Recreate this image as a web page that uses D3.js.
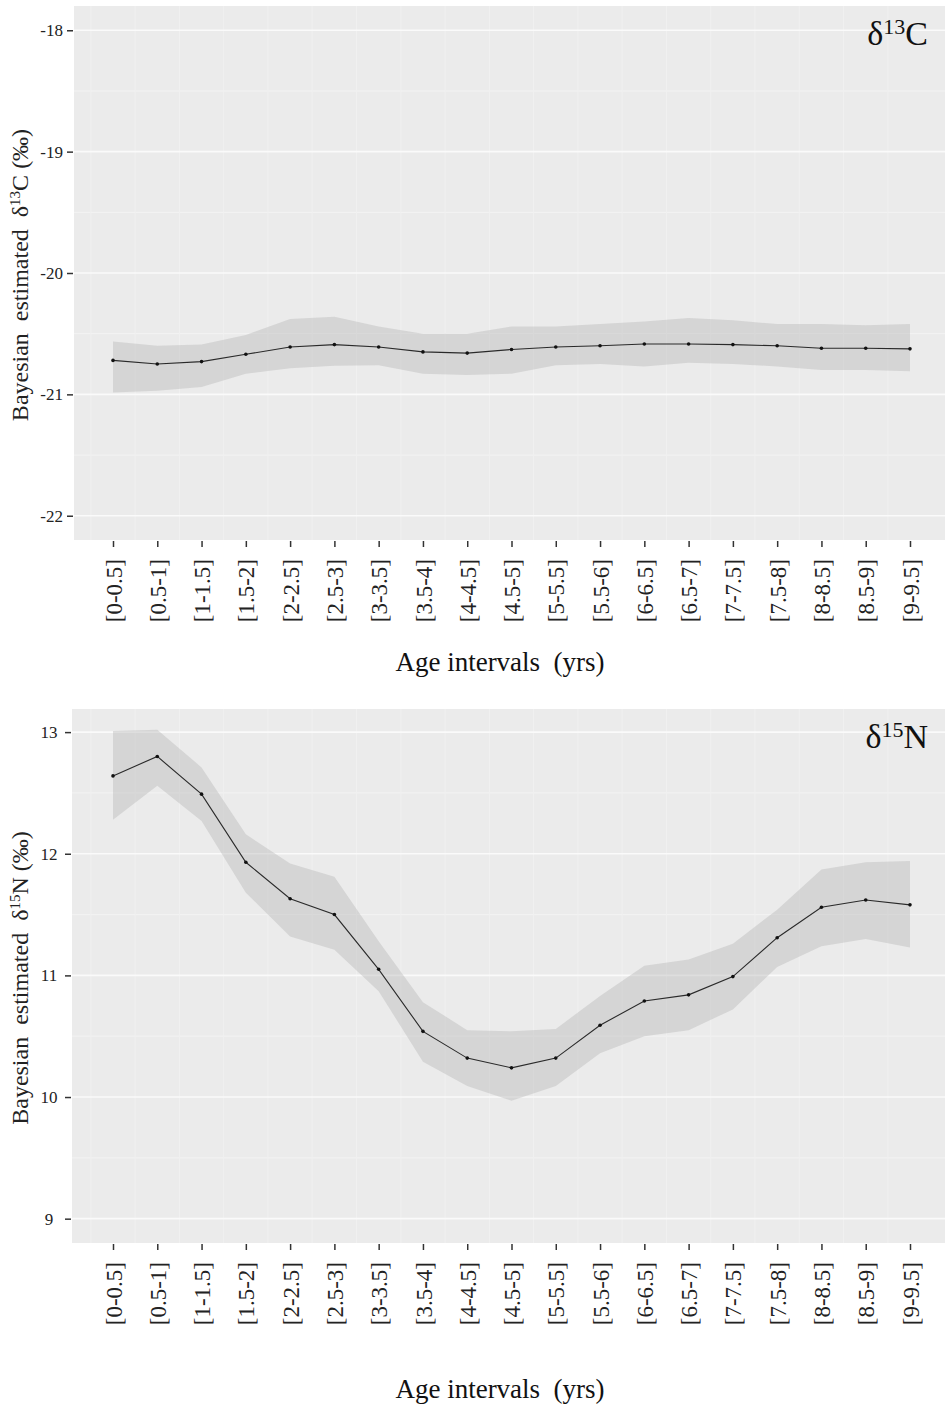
<!DOCTYPE html>
<html>
<head>
<meta charset="utf-8">
<script src="https://cdn.jsdelivr.net/npm/d3@7"></script>
<style>
  body { margin: 0; background: #fff; }
  svg { display: block; font-family: "Liberation Serif", "DejaVu Serif", serif; }
</style>
</head>
<body>
<div id="plot"></div>
<script>
const categories = ["[0-0.5]", "[0.5-1]", "[1-1.5]", "[1.5-2]", "[2-2.5]", "[2.5-3]", "[3-3.5]",
  "[3.5-4]", "[4-4.5]", "[4.5-5]", "[5-5.5]", "[5.5-6]", "[6-6.5]", "[6.5-7]", "[7-7.5]",
  "[7.5-8]", "[8-8.5]", "[8.5-9]", "[9-9.5]"];

// δ13C posterior estimates
const c13Mean  = [-20.72, -20.75, -20.73, -20.67, -20.61, -20.59, -20.61, -20.65, -20.66, -20.63,
  -20.61, -20.60, -20.585, -20.585, -20.59, -20.60, -20.62, -20.62, -20.625];
const c13Upper = [-20.565, -20.60, -20.59, -20.51, -20.38, -20.36, -20.44, -20.50, -20.50, -20.44,
  -20.44, -20.42, -20.40, -20.37, -20.39, -20.42, -20.42, -20.43, -20.42];
const c13Lower = [-20.985, -20.97, -20.94, -20.83, -20.785, -20.765, -20.76, -20.83, -20.84, -20.83,
  -20.76, -20.75, -20.77, -20.74, -20.75, -20.77, -20.80, -20.80, -20.81];
const c13Ticks = [-18, -19, -20, -21, -22];

// δ15N posterior estimates
const n15Mean  = [12.64, 12.80, 12.49, 11.93, 11.63, 11.50, 11.05, 10.54, 10.32, 10.24,
  10.32, 10.59, 10.79, 10.84, 10.99, 11.31, 11.56, 11.62, 11.58];
const n15Upper = [13.01, 13.02, 12.71, 12.16, 11.92, 11.81, 11.28, 10.78, 10.55, 10.54,
  10.56, 10.83, 11.08, 11.13, 11.26, 11.54, 11.87, 11.93, 11.94];
const n15Lower = [12.28, 12.56, 12.27, 11.68, 11.32, 11.21, 10.87, 10.29, 10.09, 9.97,
  10.09, 10.36, 10.50, 10.55, 10.72, 11.07, 11.24, 11.30, 11.23];
const n15Ticks = [9, 10, 11, 12, 13];

const width = 945, height = 1407;
const serif = "Liberation Serif";

const svg = d3.select("#plot").append("svg")
  .attr("width", width)
  .attr("height", height)
  .attr("viewBox", [0, 0, width, height]);

function drawPanel({top, bottom, left, yDomain, ticks, mean, upper, lower, iso, element, titleY, labelAnchor, labelX, xTitleY}) {
  const g = svg.append("g");
  const x = d3.scalePoint().domain(categories).range([113, 910]);
  const y = d3.scaleLinear().domain(yDomain).range([bottom, top]);
  const step = x.step();

  g.append("rect")
    .attr("x", left).attr("y", top)
    .attr("width", width - left).attr("height", bottom - top)
    .attr("fill", "#ebebeb");

  // minor horizontal grid
  const minor = d3.range(Math.ceil(yDomain[0] * 2) / 2, yDomain[1], 0.5).filter(v => v % 1 !== 0);
  g.selectAll(".minor").data(minor).join("line")
    .attr("x1", left).attr("x2", width)
    .attr("y1", d => y(d)).attr("y2", d => y(d))
    .attr("stroke", "#f3f3f3").attr("stroke-width", 1);

  // faint vertical grid
  g.selectAll(".vgrid").data(categories).join("line")
    .attr("x1", d => x(d) - step / 2).attr("x2", d => x(d) - step / 2)
    .attr("y1", top).attr("y2", bottom)
    .attr("stroke", "#f0f0f0").attr("stroke-width", 1);

  // major horizontal grid
  g.selectAll(".major").data(ticks).join("line")
    .attr("x1", left).attr("x2", width)
    .attr("y1", d => y(d)).attr("y2", d => y(d))
    .attr("stroke", "#fafafa").attr("stroke-width", 1.6);

  const area = d3.area()
    .x((d, i) => x(categories[i]))
    .y0((d, i) => y(lower[i]))
    .y1((d, i) => y(upper[i]));
  g.append("path")
    .attr("d", area(mean))
    .attr("fill", "#b5b5b5").attr("fill-opacity", 0.4);

  const line = d3.line()
    .x((d, i) => x(categories[i]))
    .y(d => y(d));
  g.append("path")
    .attr("d", line(mean))
    .attr("fill", "none").attr("stroke", "#2a2a2a").attr("stroke-width", 1.1);

  g.selectAll(".pt").data(mean).join("circle")
    .attr("cx", (d, i) => x(categories[i]))
    .attr("cy", d => y(d))
    .attr("r", 1.8).attr("fill", "#111");

  // y axis
  const yAxis = d3.axisLeft(y).tickValues(ticks).tickSize(6).tickPadding(4).tickFormat(d => String(d));
  g.append("g")
    .attr("transform", `translate(${left - 1},0)`)
    .call(yAxis)
    .attr("font-family", serif)
    .call(a => a.select(".domain").remove())
    .call(a => a.selectAll(".tick line").attr("stroke", "#333").attr("stroke-width", 1.5))
    .call(a => a.selectAll(".tick text")
      .attr("font-size", 17).attr("fill", "#222")
      .attr("text-anchor", labelAnchor)
      .attr("x", labelX - (left - 1)));

  // x axis
  const xAxis = d3.axisBottom(x).tickSize(7).tickPadding(0);
  g.append("g")
    .attr("transform", `translate(0,${bottom})`)
    .call(xAxis)
    .attr("font-family", serif)
    .call(a => a.select(".domain").remove())
    .call(a => a.selectAll(".tick line").attr("stroke", "#333").attr("stroke-width", 1.5).attr("y1", 1))
    .call(a => a.selectAll(".tick text")
      .attr("font-size", 23).attr("fill", "#222")
      .attr("text-anchor", "end")
      .attr("transform", "rotate(-90)")
      .attr("x", -19).attr("y", 0).attr("dy", "0.35em"));

  g.append("text")
    .attr("x", 500).attr("y", xTitleY)
    .attr("text-anchor", "middle")
    .attr("font-size", 27).attr("fill", "#111")
    .attr("xml:space", "preserve")
    .text("Age intervals  (yrs)");

  // y label
  const yl = g.append("text")
    .attr("transform", `translate(28,${(top + bottom) / 2 + 2}) rotate(-90)`)
    .attr("text-anchor", "middle")
    .attr("font-size", 24).attr("fill", "#222")
    .attr("xml:space", "preserve");
  yl.append("tspan").text("Bayesian  estimated  δ");
  yl.append("tspan").attr("font-size", 15).attr("dy", -8).text(iso);
  yl.append("tspan").attr("dy", 8).text(element + " (‰)");

  // panel title
  const t = g.append("text")
    .attr("x", 928).attr("y", titleY)
    .attr("text-anchor", "end")
    .attr("font-size", 34).attr("fill", "#111");
  t.append("tspan").text("δ");
  t.append("tspan").attr("font-size", 22).attr("dy", -11).text(iso);
  t.append("tspan").attr("dy", 11).text(element);
}

drawPanel({top: 6, bottom: 540, left: 74, yDomain: [-22.2, -17.8], ticks: c13Ticks,
  mean: c13Mean, upper: c13Upper, lower: c13Lower, iso: "13", element: "C", titleY: 45,
  labelAnchor: "end", labelX: 63, xTitleY: 671});

drawPanel({top: 709, bottom: 1243, left: 72, yDomain: [8.8, 13.19], ticks: n15Ticks,
  mean: n15Mean, upper: n15Upper, lower: n15Lower, iso: "15", element: "N", titleY: 748,
  labelAnchor: "middle", labelX: 49, xTitleY: 1398});
</script>
</body>
</html>
